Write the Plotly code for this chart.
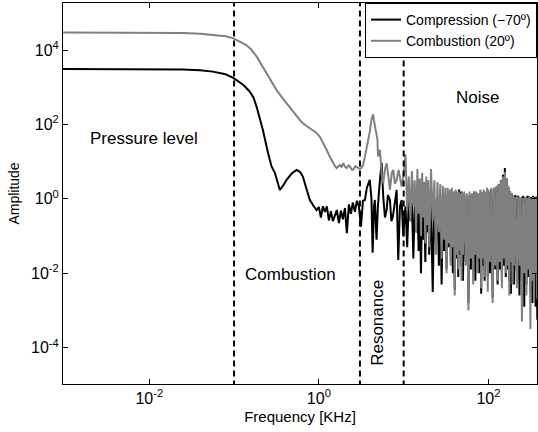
import numpy as np
import plotly.graph_objects as go

# ---------------- data ----------------
# low/mid-frequency part, stored as log10(frequency [KHz]) and log10(amplitude)
comp_lf_log10_freq = [-3.02, -2.5, -2.0, -1.6, -1.4, -1.25, -1.1, -1.015, -0.95, -0.88,
                      -0.814, -0.77, -0.735, -0.70, -0.66, -0.60, -0.558, -0.519, -0.49, -0.46,
                      -0.42, -0.381, -0.32, -0.263, -0.22, -0.189, -0.15, -0.106, -0.06, -0.027,
                      0.0, 0.024, 0.047, 0.071, 0.094, 0.118, 0.142, 0.165, 0.189, 0.212,
                      0.236, 0.26, 0.283, 0.307, 0.33, 0.354, 0.378, 0.40, 0.425, 0.448,
                      0.472, 0.496, 0.52, 0.543, 0.566, 0.60, 0.62, 0.634, 0.65, 0.66,
                      0.68, 0.696, 0.72, 0.74, 0.759, 0.779, 0.799, 0.814, 0.838, 0.855,
                      0.873, 0.897, 0.917, 0.936, 0.956, 0.976, 0.995]
comp_lf_log10_amp = [3.49, 3.49, 3.49, 3.48, 3.46, 3.42, 3.35, 3.26, 3.16, 3.04,
                     2.88, 2.72, 2.48, 2.2, 1.85, 1.24, 0.87, 0.70, 0.45, 0.24,
                     0.36, 0.51, 0.68, 0.78, 0.72, 0.60, 0.30, -0.03, -0.2, -0.30,
                     -0.22, -0.50, -0.20, -0.35, -0.20, -0.58, -0.33, -0.60, -0.45, -0.30,
                     -0.65, -0.32, -0.55, -0.25, -0.92, -0.15, -0.40, -0.10, -0.35, -0.05,
                     -0.20, -0.75, -0.05, -0.03, 0.30, 0.51, 0.0, -1.45, -0.2, -0.03,
                     -1.10, -0.2, 0.51, 0.97, 0.06, -0.5, -0.30, 0.1, -0.03, -0.6,
                     -0.47, -0.1, 0.24, -1.64, -0.2, -0.03, -1.0]

comb_lf_log10_freq = [-3.02, -2.5, -2.0, -1.6, -1.4, -1.2, -1.1, -1.015, -0.94, -0.86,
                      -0.80, -0.735, -0.68, -0.62, -0.56, -0.50, -0.44, -0.38, -0.32, -0.263,
                      -0.21, -0.165, -0.12, -0.067, -0.03, 0.012, 0.05, 0.091, 0.13, 0.169,
                      0.19, 0.209, 0.23, 0.248, 0.27, 0.287, 0.31, 0.327, 0.35, 0.366,
                      0.39, 0.405, 0.43, 0.46, 0.484, 0.50, 0.52, 0.543, 0.57, 0.60,
                      0.62, 0.64, 0.65, 0.671, 0.69, 0.698, 0.72, 0.74, 0.759, 0.78,
                      0.799, 0.82, 0.838, 0.86, 0.877, 0.897, 0.917, 0.94, 0.956, 0.976,
                      0.995]
comb_lf_log10_amp = [4.47, 4.47, 4.47, 4.46, 4.44, 4.40, 4.37, 4.32, 4.24, 4.14,
                     4.02, 3.83, 3.62, 3.38, 3.15, 2.93, 2.74, 2.57, 2.39, 2.21,
                     2.08, 1.99, 1.92, 1.85, 1.78, 1.67, 1.52, 1.32, 1.13, 0.96,
                     0.88, 0.83, 0.88, 0.91, 0.85, 0.96, 0.86, 0.83, 0.90, 0.87,
                     0.78, 0.78, 0.88, 0.83, 0.80, 0.83, 0.90, 1.14, 1.45, 1.8,
                     2.13, 2.27, 2.1, 1.85, 1.6, 1.14, 1.32, 0.69, 0.42, 0.8,
                     0.96, 0.6, 0.24, 0.7, 0.78, 0.4, 0.51, 0.78, 0.6, 0.33,
                     0.6]

# high-frequency (noise) part: shared frequency grid in KHz
noise_freq_khz = [10.5, 11, 11.5, 12, 12.5, 13, 13.5, 14, 14.5, 15,
                  15.5, 16, 16.5, 17, 17.5, 18, 18.5, 19, 19.5, 20,
                  21, 22, 23, 24, 25, 26, 27, 28, 29, 30,
                  31, 32, 33, 34, 35, 36, 37, 38, 39, 40,
                  41, 42, 43, 44, 45, 46, 47, 48, 49, 50,
                  52, 54, 56, 58, 60, 62, 64, 66, 68, 70,
                  72, 74, 76, 78, 80, 82, 84, 86, 88, 90,
                  92, 94, 96, 98, 100,
                  104, 108, 112, 116, 120, 124, 128, 132, 136, 140,
                  144, 148, 152, 156, 160, 164, 168, 172, 176, 180,
                  184, 188, 192, 196, 200,
                  208, 216, 224, 232, 240, 248, 256, 264, 272, 280,
                  288, 296, 304, 312, 320, 328, 336, 344, 352, 360,
                  368, 376, 384]
comb_noise_log10_amp = [1.2, -0.3, 0.6, -0.6, 0.75, -0.2, 0.5, -0.9, 0.8, -0.4,
                        0.55, -1.0, 0.7, -0.5, 0.45, -1.2, 0.6, -0.7, 0.5, -1.3,
                        0.8, -0.6, 0.5, -1.5, 0.45, -0.9, 0.4, -1.6, 0.35, -1.1,
                        0.3, -2.0, 0.3, -1.2, 0.25, -1.8, 0.3, -1.3, 0.2, -2.6,
                        0.25, -1.5, 0.2, -1.9, 0.2, -1.4, 0.15, -2.2, 0.2, -1.5,
                        0.2, -1.8, 0.15, -3.0, 0.2, -1.6, 0.15, -2.3, 0.2, -1.5,
                        0.2, -2.0, 0.15, -1.6, 0.25, -2.4, 0.2, -1.6, 0.25, -2.1,
                        0.2, -1.7, 0.3, -2.5, 0.25,
                        -1.7, 0.3, -2.8, 0.3, -1.8, 0.35, -2.2, 0.4, -1.7, 0.5,
                        -2.4, 0.6, -1.6, 0.72, -2.0, 0.55, -1.8, 0.35, -2.6, 0.2,
                        -1.7, 0.15, -2.3, 0.1, -1.8,
                        0.05, -2.4, 0.05, -1.8, 0.05, -3.3, 0.02, -2.0, 0.05, -2.6,
                        0.03, -1.9, 0.05, -3.5, 0.0, -2.2, 0.05, -2.8, 0.02, -2.0,
                        0.04, -2.7, 0.0]
comp_noise_log10_amp = [-0.2, -1.3, 0.0, -0.6, -0.1, -1.6, -0.2, -0.9, 0.05, -1.4,
                        -0.1, -2.0, 0.0, -1.1, -0.2, -1.7, 0.0, -0.9, -0.1, -1.5,
                        -0.1, -2.5, 0.0, -1.2, 0.05, -1.8, 0.1, -2.3, 0.0, -1.4,
                        0.1, -1.9, 0.05, -1.3, 0.1, -1.7, 0.15, -2.0, 0.1, -2.45,
                        0.2, -1.6, 0.15, -2.1, 0.25, -1.5, 0.2, -1.8, 0.15, -2.2,
                        0.1, -1.7, 0.05, -2.8, 0.1, -1.9, 0.05, -1.6, 0.2, -2.2,
                        0.05, -1.7, 0.1, -2.0, 0.1, -2.55, 0.05, -1.8, 0.15, -2.2,
                        0.1, -1.7, 0.15, -2.1, 0.2,
                        -2.0, 0.25, -2.65, 0.3, -1.9, 0.3, -2.3, 0.4, -1.9, 0.5,
                        -2.2, 0.65, -1.8, 0.83, -2.1, 0.55, -1.9, 0.3, -2.2, 0.2,
                        -2.55, 0.15, -2.0, 0.08, -2.3,
                        0.1, -2.0, 0.08, -2.6, 0.05, -2.2, 0.08, -2.9, 0.05, -2.3,
                        0.08, -2.1, 0.06, -2.5, 0.05, -2.8, 0.08, -2.4, 0.05, -2.9,
                        0.06, -3.25, 0.03]

region_bounds_khz = [0.1, 3.05, 10]
series_names = ["Compression (\u221270\u00ba)", "Combustion (20\u00ba)"]
x_tick_vals = [1e-2, 1e0, 1e2]
x_tick_text = ["10<sup>-2</sup>", "10<sup>0</sup>", "10<sup>2</sup>"]
y_tick_vals = [1e-4, 1e-2, 1e0, 1e2, 1e4]
y_tick_text = ["10<sup>-4</sup>", "10<sup>-2</sup>", "10<sup>0</sup>", "10<sup>2</sup>", "10<sup>4</sup>"]

# ---------------- assemble ----------------
comp_f = np.concatenate([np.power(10.0, comp_lf_log10_freq), noise_freq_khz])
comp_a = np.power(10.0, np.concatenate([comp_lf_log10_amp, comp_noise_log10_amp]))
comb_f = np.concatenate([np.power(10.0, comb_lf_log10_freq), noise_freq_khz])
comb_a = np.power(10.0, np.concatenate([comb_lf_log10_amp, comb_noise_log10_amp]))

FONT = "Liberation Sans, Arial, Helvetica, sans-serif"

fig = go.Figure()
fig.add_trace(go.Scatter(x=comp_f, y=comp_a, mode="lines", name=series_names[0],
                         line=dict(color="black", width=2)))
fig.add_trace(go.Scatter(x=comb_f, y=comb_a, mode="lines", name=series_names[1],
                         line=dict(color="#808080", width=2)))
for b in region_bounds_khz:
    fig.add_trace(go.Scatter(x=[b, b], y=[1e-8, 1e8], mode="lines", showlegend=False,
                             hoverinfo="skip",
                             line=dict(color="black", width=2, dash="6px,4px")))

fig.update_layout(
    width=538, height=432,
    margin=dict(l=63, r=1, t=3, b=48),
    paper_bgcolor="white", plot_bgcolor="white",
    font=dict(family=FONT, size=14, color="black"),
    showlegend=True,
    legend=dict(x=1, y=1, xanchor="right", yanchor="top",
                bordercolor="black", borderwidth=1, bgcolor="white",
                font=dict(size=14), tracegroupgap=0, itemwidth=30),
)
fig.update_xaxes(type="log", range=[-3.017, 2.572],
                 tickvals=x_tick_vals, ticktext=x_tick_text,
                 ticks="inside", ticklen=5, tickwidth=1, tickcolor="black",
                 showline=True, linecolor="black", linewidth=1, mirror="ticks",
                 showgrid=False, zeroline=False,
                 tickfont=dict(size=16),
                 title=dict(text="Frequency [KHz]", font=dict(size=15), standoff=5))
fig.update_yaxes(type="log", range=[-4.977, 5.265],
                 tickvals=y_tick_vals, ticktext=y_tick_text,
                 ticks="inside", ticklen=5, tickwidth=1, tickcolor="black",
                 showline=True, linecolor="black", linewidth=1, mirror="ticks",
                 showgrid=False, zeroline=False,
                 tickfont=dict(size=16),
                 title=dict(text="Amplitude", font=dict(size=14), standoff=8))

ann_font = dict(family=FONT, size=17, color="black")
annotations = [
    ("Pressure level", 144, 139, 0),
    ("Noise", 477.5, 98, 0),
    ("Combustion", 291, 275, 0),
    ("Resonance", 378, 323, -90),
]
for text, px, py, ang in annotations:
    fig.add_annotation(text=text, xref="paper", yref="paper",
                       x=(px - 63.3) / 473.7, y=1 - (py - 3.5) / 380.5,
                       xanchor="center", yanchor="middle", textangle=ang,
                       showarrow=False, font=ann_font)

fig.write_html("out.html")
